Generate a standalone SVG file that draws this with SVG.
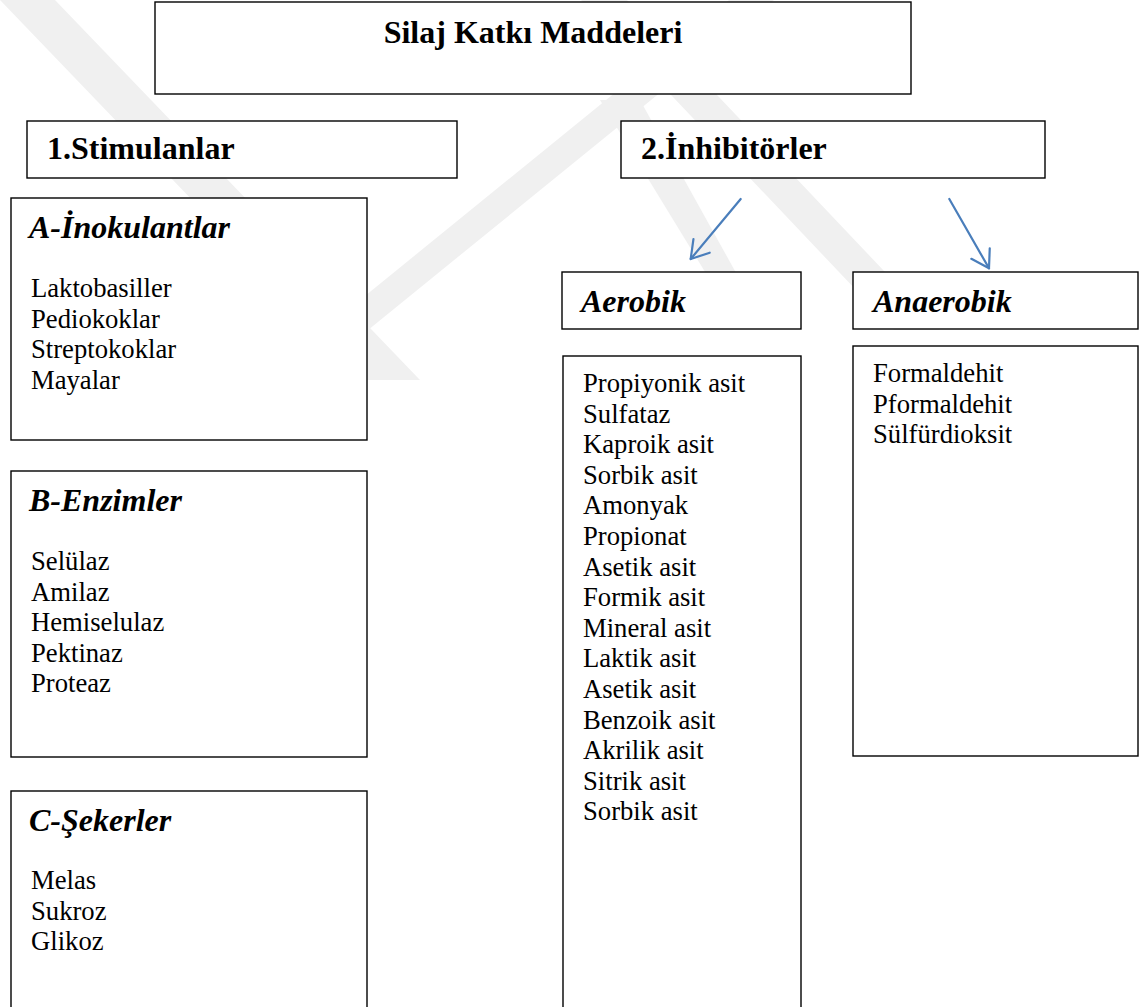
<svg xmlns="http://www.w3.org/2000/svg" width="1147" height="1007" viewBox="0 0 1147 1007">
<defs>
<style>
.box{fill:#fff;stroke:#000;stroke-width:1.4}
.h{font-family:"Liberation Serif","Times New Roman",serif;font-size:32px;font-weight:bold;fill:#000}
.hi{font-family:"Liberation Serif","Times New Roman",serif;font-size:32px;font-weight:bold;font-style:italic;fill:#000}
.it{font-family:"Liberation Serif","Times New Roman",serif;font-size:26.67px;fill:#000}
.wm{fill:#f0f0f0}
.arr{fill:none;stroke:#4A7EBB;stroke-width:2.2;stroke-linecap:round}
</style>
<marker id="ah" viewBox="-20 -12 22 24" refX="0" refY="0" markerWidth="22" markerHeight="24" markerUnits="userSpaceOnUse" orient="auto">
<path d="M-17,-10.6 L0,0 L-17,10.6" fill="none" stroke="#4A7EBB" stroke-width="2.2" stroke-linecap="round" stroke-linejoin="round"/>
</marker>
</defs>
<rect width="1147" height="1007" fill="#fff"/>
<g id="watermark">
<polygon class="wm" points="0,0 55,0 420,380 365,380"/>
<polygon class="wm" points="581,0 627,0 940,330 894,330"/>
<polygon class="wm" points="600,100 640,100 740,280 710,280"/>
<polygon class="wm" points="729,0 774,0 282,400 237,400"/>
</g>
<g id="title"><rect class="box" x="155" y="2" width="756" height="92"/><text class="h" x="533" y="43" text-anchor="middle">Silaj Katkı Maddeleri</text></g>
<g id="stimulanlar"><rect class="box" x="27" y="121" width="430" height="57"/><text class="h" x="47" y="159">1.Stimulanlar</text></g>
<g id="inhibitorler"><rect class="box" x="621" y="121" width="424" height="57"/><text class="h" x="641" y="159">2.İnhibitörler</text></g>
<g id="inokulantlar"><rect class="box" x="11" y="198" width="356" height="242"/><text class="hi" x="29" y="238">A-İnokulantlar</text>
<text class="it" x="31" y="297">Laktobasiller</text><text class="it" x="31" y="327.5">Pediokoklar</text><text class="it" x="31" y="358">Streptokoklar</text><text class="it" x="31" y="388.5">Mayalar</text></g>
<g id="enzimler"><rect class="box" x="11" y="471" width="356" height="286"/><text class="hi" x="29" y="511">B-Enzimler</text>
<text class="it" x="31" y="570">Selülaz</text><text class="it" x="31" y="600.5">Amilaz</text><text class="it" x="31" y="631">Hemiselulaz</text><text class="it" x="31" y="661.5">Pektinaz</text><text class="it" x="31" y="692">Proteaz</text></g>
<g id="sekerler"><rect class="box" x="11" y="791" width="356" height="240"/><text class="hi" x="29" y="831">C-Şekerler</text>
<text class="it" x="31" y="889">Melas</text><text class="it" x="31" y="919.5">Sukroz</text><text class="it" x="31" y="950">Glikoz</text></g>
<g id="aerobik"><rect class="box" x="562" y="272" width="239" height="57"/><text class="hi" x="581" y="312">Aerobik</text></g>
<g id="anaerobik"><rect class="box" x="853" y="272" width="285" height="57"/><text class="hi" x="873" y="312">Anaerobik</text></g>
<g id="aerobik-list"><rect class="box" x="563" y="356" width="238" height="680"/>
<text class="it" x="583" y="392">Propiyonik asit</text>
<text class="it" x="583" y="422.6">Sulfataz</text>
<text class="it" x="583" y="453.2">Kaproik asit</text>
<text class="it" x="583" y="483.8">Sorbik asit</text>
<text class="it" x="583" y="514.4">Amonyak</text>
<text class="it" x="583" y="545">Propionat</text>
<text class="it" x="583" y="575.6">Asetik asit</text>
<text class="it" x="583" y="606.2">Formik asit</text>
<text class="it" x="583" y="636.8">Mineral asit</text>
<text class="it" x="583" y="667.4">Laktik asit</text>
<text class="it" x="583" y="698">Asetik asit</text>
<text class="it" x="583" y="728.6">Benzoik asit</text>
<text class="it" x="583" y="759.2">Akrilik asit</text>
<text class="it" x="583" y="789.8">Sitrik asit</text>
<text class="it" x="583" y="820.4">Sorbik asit</text></g>
<g id="anaerobik-list"><rect class="box" x="853" y="346" width="285" height="410"/>
<text class="it" x="873" y="382">Formaldehit</text>
<text class="it" x="873" y="412.6">Pformaldehit</text>
<text class="it" x="873" y="443.2">Sülfürdioksit</text></g>
<g id="connectors">
<line class="arr" x1="740.7" y1="199" x2="690.7" y2="259" marker-end="url(#ah)"/>
<line class="arr" x1="949.3" y1="199" x2="989" y2="268.3" marker-end="url(#ah)"/>
</g>
</svg>
